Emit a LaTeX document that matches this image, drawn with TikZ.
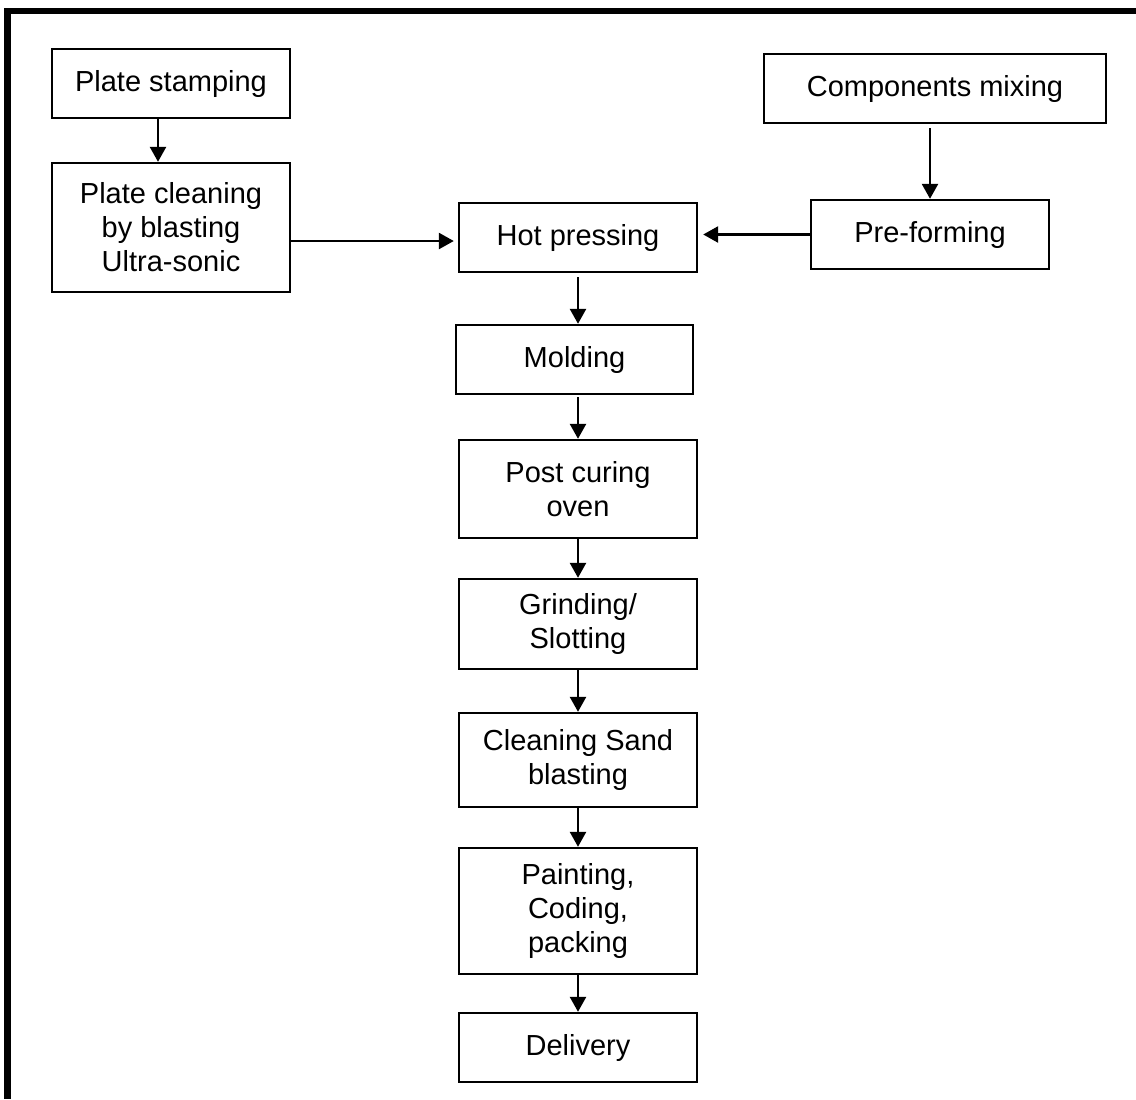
\documentclass[tikz,border=0pt]{standalone}
\usepackage{fontspec}
\setmainfont{Liberation Sans}
\usetikzlibrary{arrows.meta}

\begin{document}
\begin{tikzpicture}[x=0.5pt,y=-0.5pt,
  procbox/.style={draw=black, line width=1.2pt, fill=white, align=center,
    inner sep=0pt, font=\fontsize{14.5pt}{17pt}\selectfont},
  flow/.style={line width=1.3pt, -{Triangle[length=7.5pt,width=8pt]}},
  frameline/.style={line width=3.3pt, line cap=butt}]

\useasboundingbox (0,0) rectangle (1136,1099);

% frame: top and left edges only
\draw[frameline] (4,11) -- (1136,11);
\draw[frameline] (7.5,8) -- (7.5,1099);

% process steps
\node[procbox, minimum width=119pt, minimum height=34.5pt] (stamp) at (171,83.5) {Plate stamping};
\node[procbox, minimum width=119pt, minimum height=64.5pt] (clean) at (171,227.5) {Plate cleaning\\by blasting\\Ultra-sonic};
\node[procbox, minimum width=171pt, minimum height=34.5pt] (mix) at (935,88.5) {Components mixing};
\node[procbox, minimum width=119pt, minimum height=34.5pt] (pre) at (930,234.5) {Pre-forming};
\node[procbox, minimum width=119pt, minimum height=34.5pt] (hot) at (578,237.5) {Hot pressing};
\node[procbox, minimum width=118.5pt, minimum height=34.5pt] (mold) at (574.5,359.5) {Molding};
\node[procbox, minimum width=119pt, minimum height=49pt] (post) at (578,489) {Post curing\\oven};
\node[procbox, minimum width=119pt, minimum height=45pt] (grind) at (578,624) {Grinding/\\Slotting};
\node[procbox, minimum width=119pt, minimum height=47pt] (sand) at (578,760) {Cleaning Sand\\blasting};
\node[procbox, minimum width=119pt, minimum height=63pt] (paint) at (578,911) {Painting,\\Coding,\\packing};
\node[procbox, minimum width=119pt, minimum height=34.5pt] (deliv) at (578,1047.5) {Delivery};

% connectors
\draw[flow] ([xshift=-6.5pt]stamp.south) -- ([xshift=-6.5pt]clean.north);
\draw[flow] ([yshift=-2pt]mix.south -| pre.north) -- (pre.north);
\draw[flow] ([yshift=-1.75pt]clean.east |- hot.west) -- ([xshift=-2pt,yshift=-1.75pt]hot.west);
\draw[flow] (pre.west) -- ([xshift=2.5pt]hot.east |- pre.west);
\draw[flow] ([yshift=-2pt]hot.south) -- (hot.south |- mold.north);
\draw[flow] ([yshift=-1pt]mold.south -| hot.south) -- (post.north);
\draw[flow] (post.south) -- (grind.north);
\draw[flow] (grind.south) -- (sand.north);
\draw[flow] (sand.south) -- (paint.north);
\draw[flow] (paint.south) -- (deliv.north);
\end{tikzpicture}
\end{document}
